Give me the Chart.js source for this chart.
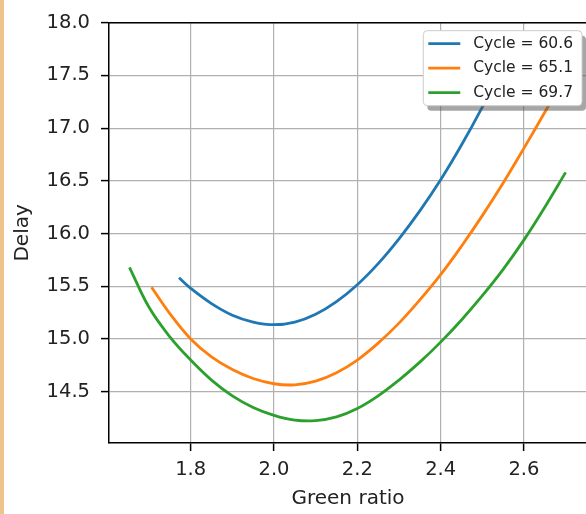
<!DOCTYPE html>
<html><head><meta charset="utf-8">
<script src="https://cdn.jsdelivr.net/npm/chart.js@4/dist/chart.umd.min.js"></script>
<style>
html,body{margin:0;padding:0;background:#fff;overflow:hidden;width:586px;height:514px}
#wrap{position:relative;width:586px;height:514px;overflow:hidden}
canvas{position:absolute;left:0;top:0}
</style></head><body>
<div id="wrap"><canvas id="c" width="600" height="514"></canvas></div>
<script>
const seriesLabels = ['Cycle = 60.6', 'Cycle = 65.1', 'Cycle = 69.7'];
const seriesColors = ['#1f77b4', '#ff7f0e', '#2ca02c'];

const blueX  = [1.772, 1.80, 1.85, 1.90, 1.95, 2.00, 2.05, 2.10, 2.15, 2.20, 2.25, 2.30, 2.35, 2.40, 2.45, 2.50, 2.55];
const blueY  = [15.58, 15.48, 15.335, 15.225, 15.16, 15.135, 15.16, 15.235, 15.355, 15.515, 15.715, 15.95, 16.215, 16.51, 16.84, 17.20, 17.59];

const orangeX = [1.706, 1.75, 1.80, 1.85, 1.90, 1.95, 2.00, 2.05, 2.10, 2.15, 2.20, 2.25, 2.30, 2.35, 2.40, 2.45, 2.50, 2.55, 2.60, 2.65, 2.70];
const orangeY = [15.49, 15.24, 15.00, 14.83, 14.71, 14.625, 14.575, 14.565, 14.60, 14.68, 14.80, 14.96, 15.15, 15.37, 15.61, 15.88, 16.17, 16.48, 16.81, 17.15, 17.50];

const greenX = [1.653, 1.70, 1.75, 1.80, 1.85, 1.90, 1.95, 2.00, 2.05, 2.10, 2.15, 2.20, 2.25, 2.30, 2.35, 2.40, 2.45, 2.50, 2.55, 2.60, 2.65, 2.70];
const greenY = [15.68, 15.30, 15.02, 14.80, 14.61, 14.46, 14.35, 14.275, 14.23, 14.225, 14.26, 14.34, 14.46, 14.61, 14.78, 14.97, 15.18, 15.41, 15.66, 15.94, 16.25, 16.58];

const xTicks = [1.8, 2.0, 2.2, 2.4, 2.6];
const yTicks = [14.5, 15.0, 15.5, 16.0, 16.5, 17.0, 17.5, 18.0];
const xRange = [1.6039, 2.7513];
const yRange = [14.013, 18.0];

const toPts = (xs, ys) => xs.map((x, i) => ({x: x, y: ys[i]}));
const seriesX = [blueX, orangeX, greenX];
const seriesY = [blueY, orangeY, greenY];

const FONT = "'DejaVu Sans', sans-serif";

const bgPlugin = {
  id: 'bg',
  beforeDraw(chart) {
    const ctx = chart.ctx;
    ctx.save();
    ctx.fillStyle = '#ffffff';
    ctx.fillRect(0, 0, chart.width, chart.height);
    ctx.fillStyle = '#efc48b';
    ctx.fillRect(0, 0, 4, chart.height);
    ctx.restore();
  }
};

const spinePlugin = {
  id: 'spines',
  afterDatasetsDraw(chart) {
    const a = chart.chartArea, ctx = chart.ctx;
    ctx.save();
    ctx.strokeStyle = '#000';
    ctx.lineWidth = 1.5;
    ctx.beginPath();
    ctx.moveTo(a.left, a.top); ctx.lineTo(a.right, a.top);
    ctx.moveTo(a.right, a.top); ctx.lineTo(a.right, a.bottom);
    ctx.stroke();
    ctx.restore();
  }
};

function rrect(ctx, x, y, w, h, r) {
  ctx.beginPath();
  ctx.moveTo(x + r, y);
  ctx.lineTo(x + w - r, y); ctx.quadraticCurveTo(x + w, y, x + w, y + r);
  ctx.lineTo(x + w, y + h - r); ctx.quadraticCurveTo(x + w, y + h, x + w - r, y + h);
  ctx.lineTo(x + r, y + h); ctx.quadraticCurveTo(x, y + h, x, y + h - r);
  ctx.lineTo(x, y + r); ctx.quadraticCurveTo(x, y, x + r, y);
  ctx.closePath();
}

const legendPlugin = {
  id: 'boxLegend',
  afterDraw(chart) {
    const a = chart.chartArea, ctx = chart.ctx;
    ctx.save();
    ctx.font = "15.5px " + FONT;
    const ds = chart.data.datasets;
    let tw = 0;
    ds.forEach(d => { tw = Math.max(tw, ctx.measureText(d.label).width); });
    const padL = 5, lineLen = 32, gap = 13, padR = 9;
    const bw = padL + lineLen + gap + tw + padR;
    const bh = 75;
    const bx = a.right - 5 - bw, by = a.top + 8;
    ctx.fillStyle = 'rgba(77,77,77,0.5)';
    rrect(ctx, bx + 4, by + 5, bw, bh, 4);
    ctx.fill();
    ctx.fillStyle = '#ffffff';
    rrect(ctx, bx, by, bw, bh, 4);
    ctx.fill();
    ctx.strokeStyle = '#cccccc';
    ctx.lineWidth = 1;
    ctx.stroke();
    ds.forEach((d, i) => {
      const cy = by + 13 + i * 24.5;
      ctx.strokeStyle = d.borderColor;
      ctx.lineWidth = 2.8;
      ctx.beginPath();
      ctx.moveTo(bx + padL, cy);
      ctx.lineTo(bx + padL + lineLen, cy);
      ctx.stroke();
      ctx.fillStyle = '#222';
      ctx.textBaseline = 'middle';
      ctx.textAlign = 'left';
      ctx.fillText(d.label, bx + padL + lineLen + gap, cy);
    });
    ctx.restore();
  }
};

new Chart(document.getElementById('c'), {
  type: 'line',
  data: {
    datasets: seriesLabels.map((lab, i) => ({
      label: lab,
      data: toPts(seriesX[i], seriesY[i]),
      borderColor: seriesColors[i],
      backgroundColor: seriesColors[i],
      borderWidth: 2.8,
      pointRadius: 0,
      tension: 0.4,
      fill: false
    }))
  },
  options: {
    responsive: false,
    animation: false,
    devicePixelRatio: 1,
    layout: {padding: {left: 0, top: 20, right: 13, bottom: 0}},
    plugins: {legend: {display: false}, tooltip: {enabled: false}},
    scales: {
      x: {
        type: 'linear',
        min: xRange[0], max: xRange[1],
        afterFit: s => { s.height = 71; },
        afterBuildTicks: s => { s.ticks = xTicks.map(v => ({value: v})); },
        grid: {color: '#b0b0b0', lineWidth: 1.2, tickColor: '#000', tickWidth: 1.5, tickLength: 8},
        border: {display: true, color: '#000', width: 1.5},
        ticks: {padding: 7, color: '#222', font: {family: FONT, size: 19.5}, callback: v => v.toFixed(1), maxRotation: 0, autoSkip: false},
        title: {display: true, text: 'Green ratio', color: '#222', font: {family: FONT, size: 20}, padding: {top: 0, bottom: 3}}
      },
      y: {
        type: 'linear',
        min: yRange[0], max: yRange[1],
        afterFit: s => { s.width = 109; },
        afterBuildTicks: s => { s.ticks = yTicks.map(v => ({value: v})); },
        grid: {color: '#b0b0b0', lineWidth: 1.2, tickColor: '#000', tickWidth: 1.5, tickLength: 8},
        border: {display: true, color: '#000', width: 1.5},
        ticks: {padding: 11, color: '#222', font: {family: FONT, size: 19.5}, callback: v => v.toFixed(1), autoSkip: false},
        title: {display: true, text: 'Delay', color: '#222', font: {family: FONT, size: 20}, padding: {top: 11, bottom: 0}}
      }
    }
  },
  plugins: [bgPlugin, spinePlugin, legendPlugin]
});
</script>
</body></html>
